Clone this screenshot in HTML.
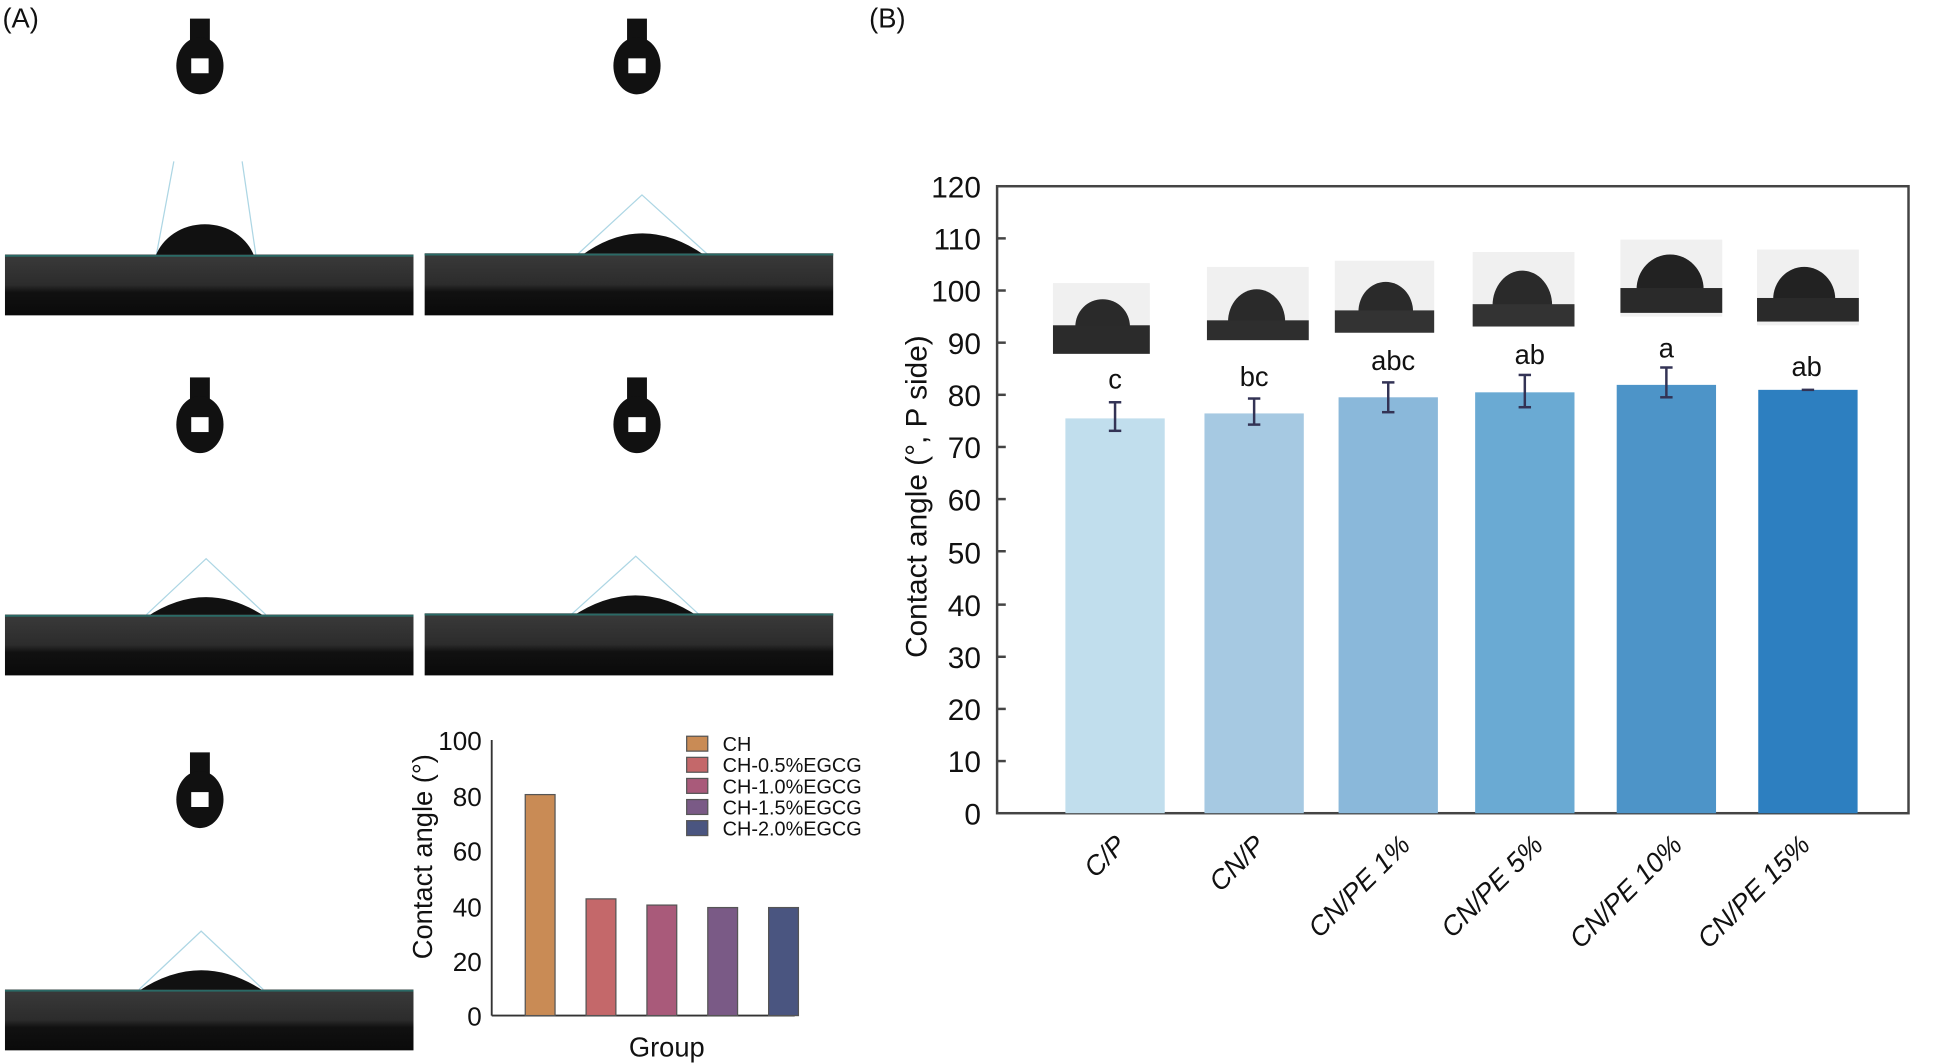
<!DOCTYPE html>
<html><head><meta charset="utf-8"><style>html,body{margin:0;padding:0;background:#fff}svg{display:block}text{font-family:"Liberation Sans",sans-serif;fill:#111}</style></head><body>
<svg width="1947" height="1064" viewBox="0 0 1568 857" preserveAspectRatio="none" xmlns="http://www.w3.org/2000/svg">
<defs>
<linearGradient id="sub" x1="0" y1="0" x2="0" y2="1">
<stop offset="0" stop-color="#3a3a3a"/><stop offset="0.5" stop-color="#2c2c2c"/><stop offset="0.62" stop-color="#111"/><stop offset="1" stop-color="#0a0a0a"/>
</linearGradient>
<g id="needle">
<rect x="-8" y="0" width="16" height="26" fill="#111"/>
<ellipse cx="0" cy="38" rx="19" ry="23" fill="#111"/>
<rect x="-7" y="32" width="14" height="12" fill="#fff"/>
</g>
</defs>
<text x="2" y="22" font-size="22">(A)</text>
<text x="700" y="22" font-size="22">(B)</text>

<use href="#needle" x="161" y="15"/>
<use href="#needle" x="513" y="15"/>
<use href="#needle" x="161" y="304"/>
<use href="#needle" x="513" y="304"/>
<use href="#needle" x="161" y="606"/>

<g stroke="#9cd" stroke-width="1" fill="none" opacity="0.8">
<path d="M126 205 L140 130 M206 205 L195 130"/>
<path d="M465 205 L517 157 L570 205"/>
<path d="M118 495 L166 450 L214 495"/>
<path d="M460 495 L512 448 L563 495"/>
<path d="M112 797 L162 750 L212 797"/>
</g>
<path d="M125 207 A42 38 0 0 1 205 207 Z" fill="#111"/>
<path d="M468 206 Q517 170 568 206 Z" fill="#111"/>
<path d="M118 497 Q166 465 214 497 Z" fill="#111"/>
<path d="M460 497 Q512 462 563 497 Z" fill="#111"/>
<path d="M112 798 Q162 765 212 798 Z" fill="#111"/>

<rect x="4" y="205" width="329" height="49" fill="url(#sub)"/>
<rect x="342" y="204" width="329" height="50" fill="url(#sub)"/>
<rect x="4" y="495" width="329" height="49" fill="url(#sub)"/>
<rect x="342" y="494" width="329" height="50" fill="url(#sub)"/>
<rect x="4" y="797" width="329" height="49" fill="url(#sub)"/>
<g stroke="#2a6a66" stroke-width="1.5"><line x1="4" y1="206" x2="333" y2="206"/><line x1="342" y1="205" x2="671" y2="205"/><line x1="4" y1="496" x2="333" y2="496"/><line x1="342" y1="495" x2="671" y2="495"/><line x1="4" y1="798" x2="333" y2="798"/></g>

<g font-size="21">
<text x="388" y="604" text-anchor="end">100</text>
<text x="388" y="649" text-anchor="end">80</text>
<text x="388" y="693" text-anchor="end">60</text>
<text x="388" y="738" text-anchor="end">40</text>
<text x="388" y="782" text-anchor="end">20</text>
<text x="388" y="826" text-anchor="end">0</text>
</g>
<line x1="396" y1="596" x2="396" y2="818" stroke="#333" stroke-width="1.5"/>
<line x1="396" y1="818" x2="640" y2="818" stroke="#333" stroke-width="1.5"/>
<g stroke="#555" stroke-width="1">
<rect x="423" y="640" width="24" height="178" fill="#c98b55"/>
<rect x="472" y="724" width="24" height="94" fill="#c4686a"/>
<rect x="521" y="729" width="24" height="89" fill="#a95a7a"/>
<rect x="570" y="731" width="24" height="87" fill="#7a5a86"/>
<rect x="619" y="731" width="24" height="87" fill="#4a5580"/>
</g>
<text transform="translate(348 690) rotate(-90)" font-size="22" text-anchor="middle">Contact angle (°)</text>
<text x="537" y="851" font-size="22" text-anchor="middle">Group</text>
<g font-size="16">
<rect x="553" y="593" width="17" height="12" fill="#c98b55" stroke="#555"/><text x="582" y="605">CH</text>
<rect x="553" y="610" width="17" height="12" fill="#c4686a" stroke="#555"/><text x="582" y="622">CH-0.5%EGCG</text>
<rect x="553" y="627" width="17" height="12" fill="#a95a7a" stroke="#555"/><text x="582" y="639">CH-1.0%EGCG</text>
<rect x="553" y="644" width="17" height="12" fill="#7a5a86" stroke="#555"/><text x="582" y="656">CH-1.5%EGCG</text>
<rect x="553" y="661" width="17" height="12" fill="#4a5580" stroke="#555"/><text x="582" y="673">CH-2.0%EGCG</text>
</g>

<rect x="803" y="150" width="734" height="505" fill="none" stroke="#444" stroke-width="2"/>
<g font-size="24" text-anchor="end">
<text x="790" y="159">120</text><text x="790" y="201">110</text><text x="790" y="243">100</text>
<text x="790" y="285">90</text><text x="790" y="327">80</text><text x="790" y="369">70</text>
<text x="790" y="411">60</text><text x="790" y="454">50</text><text x="790" y="496">40</text>
<text x="790" y="538">30</text><text x="790" y="580">20</text><text x="790" y="622">10</text><text x="790" y="664">0</text>
</g>
<g stroke="#444" stroke-width="2">
<line x1="803" y1="192" x2="810" y2="192"/><line x1="803" y1="234" x2="810" y2="234"/><line x1="803" y1="276" x2="810" y2="276"/><line x1="803" y1="318" x2="810" y2="318"/><line x1="803" y1="360" x2="810" y2="360"/><line x1="803" y1="402" x2="810" y2="402"/><line x1="803" y1="444" x2="810" y2="444"/><line x1="803" y1="487" x2="810" y2="487"/><line x1="803" y1="529" x2="810" y2="529"/><line x1="803" y1="571" x2="810" y2="571"/><line x1="803" y1="613" x2="810" y2="613"/>
</g>
<text transform="translate(746 400) rotate(-90)" font-size="24" text-anchor="middle">Contact angle (°, P side)</text>
<rect x="858" y="337" width="80" height="318" fill="#c1deed"/>
<rect x="970" y="333" width="80" height="322" fill="#a6c9e2"/>
<rect x="1078" y="320" width="80" height="335" fill="#8ab8da"/>
<rect x="1188" y="316" width="80" height="339" fill="#6aaad3"/>
<rect x="1302" y="310" width="80" height="345" fill="#4d94c8"/>
<rect x="1416" y="314" width="80" height="341" fill="#2d7fc0"/>
<g stroke="#335" stroke-width="2">
<line x1="898" y1="324" x2="898" y2="347"/><line x1="893" y1="324" x2="903" y2="324"/><line x1="893" y1="347" x2="903" y2="347"/>
<line x1="1010" y1="321" x2="1010" y2="342"/><line x1="1005" y1="321" x2="1015" y2="321"/><line x1="1005" y1="342" x2="1015" y2="342"/>
<line x1="1118" y1="308" x2="1118" y2="332"/><line x1="1113" y1="308" x2="1123" y2="308"/><line x1="1113" y1="332" x2="1123" y2="332"/>
<line x1="1228" y1="302" x2="1228" y2="328"/><line x1="1223" y1="302" x2="1233" y2="302"/><line x1="1223" y1="328" x2="1233" y2="328"/>
<line x1="1342" y1="296" x2="1342" y2="320"/><line x1="1337" y1="296" x2="1347" y2="296"/><line x1="1337" y1="320" x2="1347" y2="320"/>
<line x1="1451" y1="314" x2="1461" y2="314"/>
</g>
<g font-size="22" text-anchor="middle">
<text x="898" y="313">c</text><text x="1010" y="311">bc</text><text x="1122" y="298">abc</text>
<text x="1232" y="293">ab</text><text x="1342" y="288">a</text><text x="1455" y="303">ab</text>
</g>
<g>
<rect x="848" y="228" width="78" height="57" fill="#f0f0f0"/><path d="M866 263 A22 22 0 0 1 910 263 Z" fill="#2a2a2a"/><rect x="848" y="262" width="78" height="23" fill="#2b2b2b"/>
<rect x="972" y="215" width="82" height="59" fill="#f0f0f0"/><path d="M989 259 A23 26 0 0 1 1035 259 Z" fill="#2a2a2a"/><rect x="972" y="258" width="82" height="16" fill="#2e2e2e"/>
<rect x="1075" y="210" width="80" height="58" fill="#f0f0f0"/><path d="M1094 251 A22 24 0 0 1 1138 251 Z" fill="#2a2a2a"/><rect x="1075" y="250" width="80" height="18" fill="#333"/>
<rect x="1186" y="203" width="82" height="60" fill="#f0f0f0"/><path d="M1202 246 A24 28 0 0 1 1250 246 Z" fill="#2a2a2a"/><rect x="1186" y="245" width="82" height="18" fill="#333"/>
<rect x="1305" y="193" width="82" height="62" fill="#f0f0f0"/><path d="M1318 233 A27 28 0 0 1 1372 233 Z" fill="#222"/><rect x="1305" y="232" width="82" height="20" fill="#2a2a2a"/>
<rect x="1415" y="201" width="82" height="61" fill="#f0f0f0"/><path d="M1428 241 A25 26 0 0 1 1478 241 Z" fill="#222"/><rect x="1415" y="240" width="82" height="19" fill="#2a2a2a"/>
</g>
<g font-size="22" font-style="italic" text-anchor="end">
<text transform="translate(908 682) rotate(-45)">C/P</text>
<text transform="translate(1020 682) rotate(-45)">CN/P</text>
<text transform="translate(1137 682) rotate(-45)">CN/PE 1%</text>
<text transform="translate(1244 682) rotate(-45)">CN/PE 5%</text>
<text transform="translate(1356 682) rotate(-45)">CN/PE 10%</text>
<text transform="translate(1459 682) rotate(-45)">CN/PE 15%</text>
</g>
</svg>
</body></html>
